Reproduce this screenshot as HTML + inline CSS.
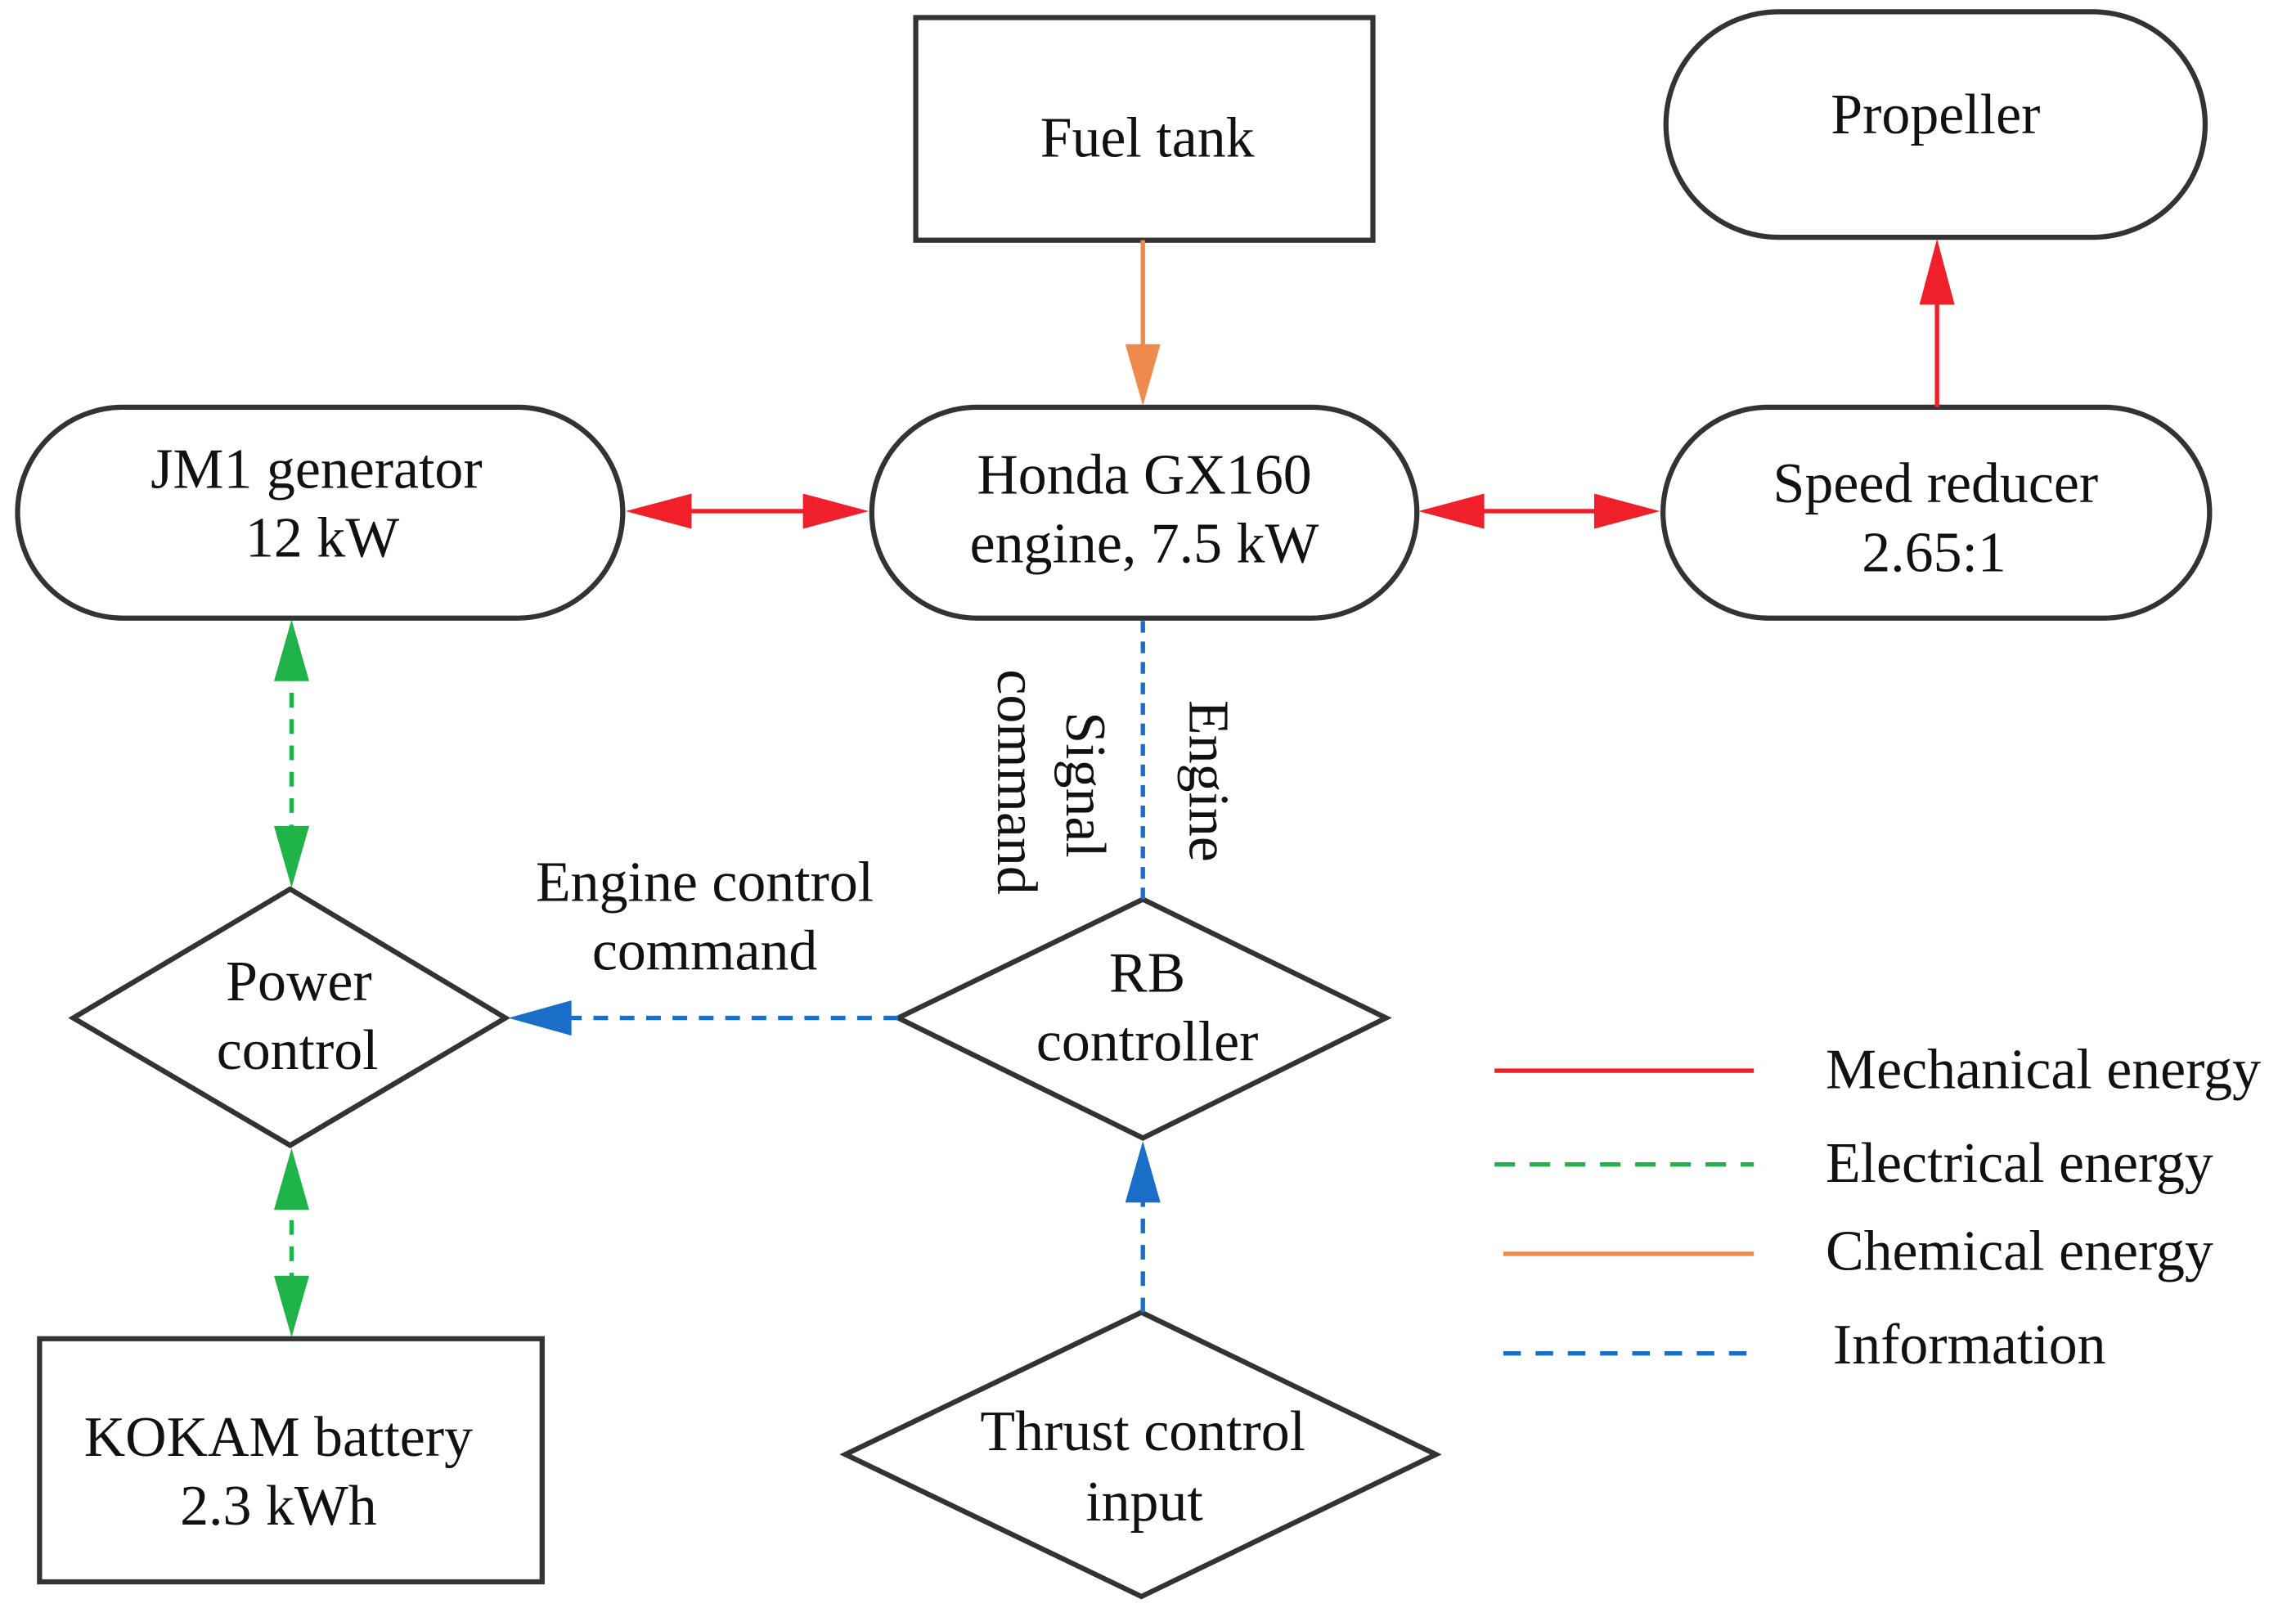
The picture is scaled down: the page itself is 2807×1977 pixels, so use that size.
<!DOCTYPE html>
<html><head><meta charset="utf-8"><style>
html,body{margin:0;padding:0;background:#fff;}
svg{display:block;}
text{font-family:"Liberation Serif",serif;font-size:39px;fill:#111;}
</style></head><body>
<svg width="2807" height="1977" viewBox="0 0 1567 1104" preserveAspectRatio="none" xmlns="http://www.w3.org/2000/svg">
<rect width="1567" height="1104" fill="#fff"/>
<g fill="#fff" stroke="#333" stroke-width="3.5">
<rect x="625" y="12" width="312" height="152"/>
<rect x="1137" y="8" width="368" height="154" rx="77"/>
<rect x="12" y="278" width="413" height="144" rx="72"/>
<rect x="595" y="278" width="372" height="144" rx="72"/>
<rect x="1135" y="278" width="373" height="144" rx="72"/>
<polygon points="50,695 198,607 345,695 198,782"/>
<polygon points="613,695 780,614 946,695 780,777"/>
<polygon points="577,993 779,896 980,993 779,1090"/>
<rect x="27" y="914" width="343" height="166"/>
</g>
<g stroke-width="3" fill="none">
<line x1="780" y1="164" x2="780" y2="240" stroke="#ee8a4c"/>
<line x1="460" y1="349" x2="560" y2="349" stroke="#f0202a"/>
<line x1="1000" y1="349" x2="1100" y2="349" stroke="#f0202a"/>
<line x1="1322" y1="278" x2="1322" y2="200" stroke="#f0202a"/>
<line x1="199" y1="455" x2="199" y2="575" stroke="#1fb34a" stroke-dasharray="10,8"/>
<line x1="199" y1="815" x2="199" y2="880" stroke="#1fb34a" stroke-dasharray="10,8"/>
<line x1="780" y1="424" x2="780" y2="614" stroke="#1a6ec8" stroke-dasharray="8,6"/>
<line x1="613" y1="695" x2="385" y2="695" stroke="#1a6ec8" stroke-dasharray="10,8"/>
<line x1="780" y1="896" x2="780" y2="815" stroke="#1a6ec8" stroke-dasharray="10,8"/>
<line x1="1020" y1="731" x2="1197" y2="731" stroke="#f0202a"/>
<line x1="1020" y1="795" x2="1197" y2="795" stroke="#1fb34a" stroke-dasharray="14,10"/>
<line x1="1026" y1="856" x2="1197" y2="856" stroke="#ee8a4c"/>
<line x1="1026" y1="924" x2="1197" y2="924" stroke="#1a6ec8" stroke-dasharray="12,10"/>
</g>
<g stroke="none">
<polygon points="768,235 792,235 780,277" fill="#ee8a4c"/>
<polygon points="427,349 472,337 472,361" fill="#f0202a"/>
<polygon points="593,349 548,337 548,361" fill="#f0202a"/>
<polygon points="968,349 1013,337 1013,361" fill="#f0202a"/>
<polygon points="1133,349 1088,337 1088,361" fill="#f0202a"/>
<polygon points="1322,163 1310,208 1334,208" fill="#f0202a"/>
<polygon points="199,423 187,465 211,465" fill="#1fb34a"/>
<polygon points="199,606 187,564 211,564" fill="#1fb34a"/>
<polygon points="199,784 187,826 211,826" fill="#1fb34a"/>
<polygon points="199,913 187,871 211,871" fill="#1fb34a"/>
<polygon points="347,695 390,683 390,707" fill="#1a6ec8"/>
<polygon points="780,779 768,821 792,821" fill="#1a6ec8"/>
</g>
<g text-anchor="middle">
<text x="783" y="107">Fuel tank</text>
<text x="1321" y="91">Propeller</text>
<text x="216" y="333">JM1 generator</text>
<text x="220" y="380">12 kW</text>
<text x="781" y="337">Honda GX160</text>
<text x="781" y="384">engine, 7.5 kW</text>
<text x="1321" y="343">Speed reducer</text>
<text x="1320" y="390">2.65:1</text>
<text x="204" y="683">Power</text>
<text x="203" y="730">control</text>
<text x="783" y="677">RB</text>
<text x="783" y="724">controller</text>
<text x="780" y="990">Thrust control</text>
<text x="781" y="1038">input</text>
<text x="190" y="994">KOKAM battery</text>
<text x="190" y="1041">2.3 kWh</text>
<text x="481" y="615">Engine control</text>
<text x="481" y="662">command</text>
</g>
<text transform="translate(812,478) rotate(90)">Engine</text>
<text transform="translate(728,486) rotate(90)">Signal</text>
<text transform="translate(681,457) rotate(90)">command</text>
<text x="1246" y="743">Mechanical energy</text>
<text x="1246" y="807">Electrical energy</text>
<text x="1246" y="867">Chemical energy</text>
<text x="1251" y="931">Information</text>
</svg>
</body></html>
